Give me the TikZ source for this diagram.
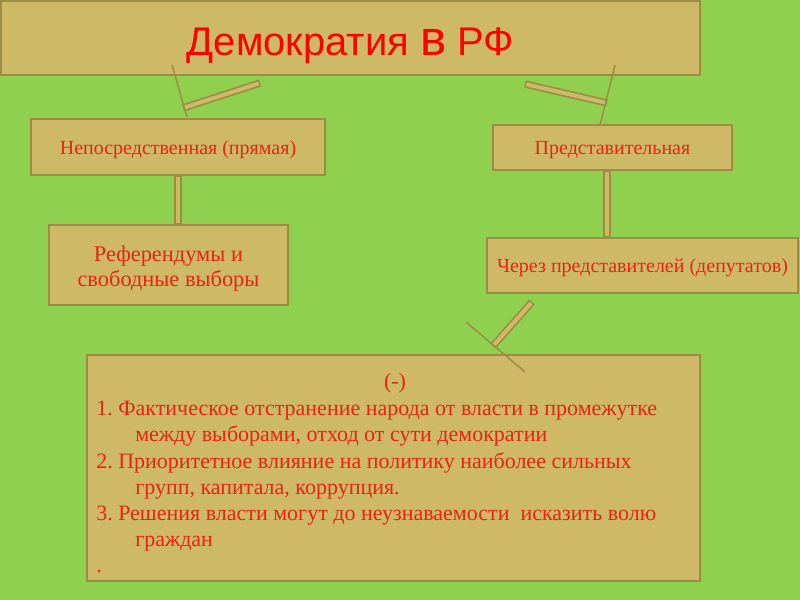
\documentclass[tikz,border=0pt]{standalone}
\usepackage{fontspec}
\setmainfont{Liberation Serif}
\newfontfamily\headfont{Liberation Sans}
\definecolor{bggreen}{RGB}{143,208,79}
\definecolor{boxfill}{RGB}{205,185,102}
\definecolor{boxline}{RGB}{155,140,70}
\definecolor{txtred}{RGB}{232,36,20}
\frenchspacing
\begin{document}
\begin{tikzpicture}[x=0.75pt, y=-0.75pt,
        box/.style={rectangle, draw=boxline, fill=boxfill, line width=1.5pt, inner sep=0pt, text=txtred, align=center, font=\fontsize{15}{18}\selectfont},
        onerow/.style={text height=10.5pt, text depth=0pt},
        listtext/.style={text=txtred, align=left, inner sep=0pt, font=\fontsize{16.5}{19.65}\selectfont},
        bar/.style={line width=5.5pt, draw=boxline, postaction={draw=boxfill, line width=3pt, shorten <=1.1pt, shorten >=1.1pt}},
        tip/.style={draw=boxline, line width=1.1pt}
    ]
        % === Background ===
        \fill[bggreen] (0,0) rectangle (800,600);
        \useasboundingbox (0,0) rectangle (800,600);

        % === Boxes ===
        \node[box, minimum width=524.25pt, minimum height=55.5pt, text=red, text height=26pt, text depth=0.5pt, font=\headfont\fontsize{30}{34}\selectfont] (title) at (350.5,38) {Демократия {\fontsize{37}{40}\selectfont в} РФ};
        \node[box, onerow, minimum width=220.5pt, minimum height=42pt] (direct) at (178,147) {Непосредственная (прямая)};
        \node[box, onerow, minimum width=179.25pt, minimum height=33.75pt] (repr) at (612.5,147.5) {Представительная};
        \node[box, minimum width=179.25pt, minimum height=60pt, font=\fontsize{16.8}{18.75}\selectfont] (referendum) at (168.5,265) {\rule{0pt}{17pt}Референдумы и\\свободные выборы};
        \node[box, onerow, minimum width=233.25pt, minimum height=41.25pt] (deputies) at (642.5,265.5) {Через представителей (депутатов)};
        \node[box, minimum width=459.75pt, minimum height=169.5pt] (cons) at (393.5,468) {};

        % === Text of the lower box ===
        \node[listtext] (consHead) at (395,383) {(-)};
        \node[listtext, anchor=north west] (consList) at (96,401) {1. Фактическое отстранение народа от власти в промежутке\\
            \hspace*{29.25pt}между выборами, отход от сути демократии\\
            2. Приоритетное влияние на политику наиболее сильных\\
            \hspace*{29.25pt}групп, капитала, коррупция.\\
            3. Решения власти могут до неузнаваемости~ исказить волю\\
            \hspace*{29.25pt}граждан\\
            .};

        % === Connectors ===
        \coordinate (lbarS) at (260,83);  \coordinate (lbarE) at (183,108);
        \coordinate (ltipA) at (172,65);  \coordinate (ltipB) at (187,117);
        \coordinate (rbarS) at (525,84);  \coordinate (rbarE) at (607,103);
        \coordinate (rtipA) at (615,65);  \coordinate (rtipB) at (600,125);
        \coordinate (bbarS) at (532,302); \coordinate (bbarE) at (493,346);
        \coordinate (btipA) at (466,322); \coordinate (btipB) at (525,372);

        \draw[bar] (lbarS) -- (lbarE); \draw[tip] (ltipA) -- (ltipB);
        \draw[bar] (rbarS) -- (rbarE); \draw[tip] (rtipA) -- (rtipB);
        \draw[bar] (bbarS) -- (bbarE); \draw[tip] (btipA) -- (btipB);

        \draw[bar] (direct.south) -- (direct.south |- referendum.north);
        \draw[bar] ([xshift=-4.1pt]repr.south) -- ([xshift=-4.1pt]repr.south |- deputies.north);
    \end{tikzpicture}
\end{document}
